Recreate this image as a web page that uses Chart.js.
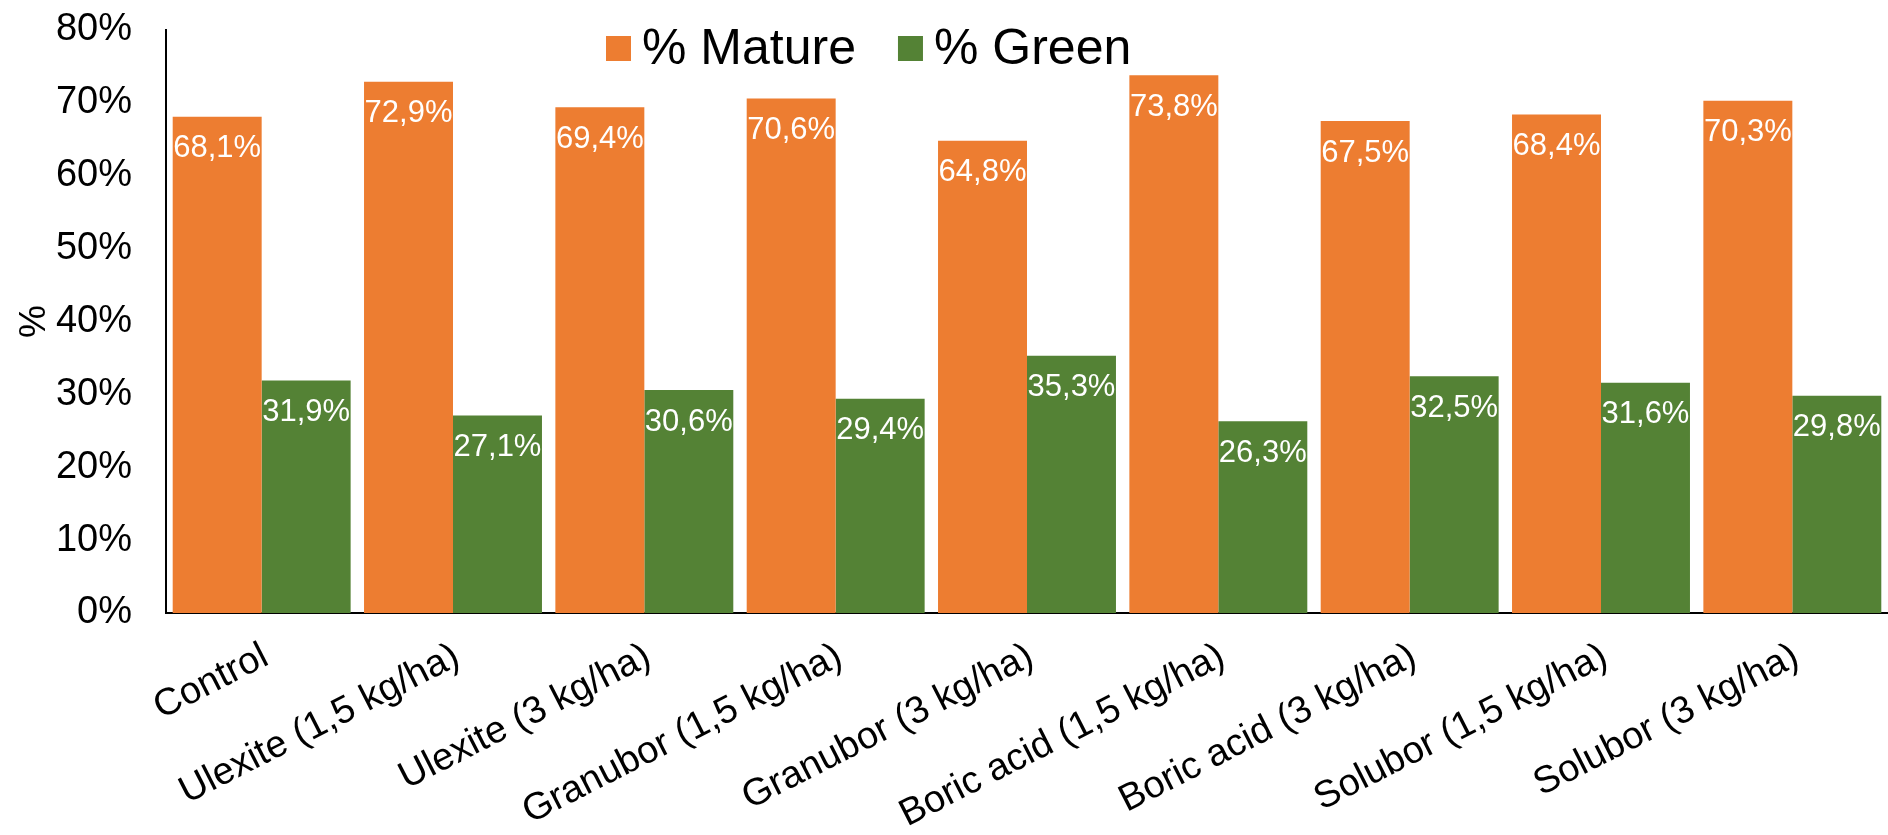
<!DOCTYPE html>
<html>
<head>
<meta charset="utf-8">
<script src="https://cdn.jsdelivr.net/npm/chart.js@4.4.0/dist/chart.umd.min.js"></script>
<style>
  html, body { margin: 0; padding: 0; background: #fff; }
  #wrap { width: 1888px; height: 835px; }
</style>
</head>
<body>
<div id="wrap"><canvas id="chart"></canvas></div>
<script>
const treatments = ['Control', 'Ulexite (1,5 kg/ha)', 'Ulexite (3 kg/ha)', 'Granubor (1,5 kg/ha)',
  'Granubor (3 kg/ha)', 'Boric acid (1,5 kg/ha)', 'Boric acid (3 kg/ha)', 'Solubor (1,5 kg/ha)',
  'Solubor (3 kg/ha)'];
const mature = [68.1, 72.9, 69.4, 70.6, 64.8, 73.8, 67.5, 68.4, 70.3];
const green = [31.9, 27.1, 30.6, 29.4, 35.3, 26.3, 32.5, 31.6, 29.8];
const seriesNames = ['% Mature', '% Green'];
const yTicks = [0, 10, 20, 30, 40, 50, 60, 70, 80];

const FONT = '"Liberation Sans", Arial, sans-serif';

function pct(v) {
  return v.toFixed(1).replace('.', ',') + '%';
}

// white value labels just inside the top of each bar
const barLabels = {
  id: 'barLabels',
  afterDatasetsDraw(chart) {
    const ctx = chart.ctx;
    ctx.save();
    ctx.font = '31px ' + FONT;
    ctx.fillStyle = '#fff';
    ctx.textAlign = 'center';
    ctx.textBaseline = 'middle';
    chart.data.datasets.forEach((ds, i) => {
      chart.getDatasetMeta(i).data.forEach((bar, j) => {
        ctx.fillText(pct(ds.data[j]), bar.x, bar.y + 32);
      });
    });
    ctx.restore();
  }
};

// legend sits over the plot, near the top
const topLegend = {
  id: 'topLegend',
  afterDraw(chart) {
    const ctx = chart.ctx;
    ctx.save();
    ctx.font = '50px ' + FONT;
    ctx.textBaseline = 'middle';
    ctx.textAlign = 'left';
    let x = 606;
    const y = 48;
    chart.data.datasets.forEach(ds => {
      ctx.fillStyle = ds.backgroundColor;
      ctx.fillRect(x, y - 12, 25, 25);
      x += 36;
      ctx.fillStyle = '#000';
      ctx.fillText(ds.label, x, y + 2);
      x += ctx.measureText(ds.label).width + 42;
    });
    ctx.restore();
  }
};

new Chart('chart', {
  type: 'bar',
  data: {
    labels: treatments,
    datasets: [
      { label: seriesNames[0], data: mature, backgroundColor: '#ED7D31' },
      { label: seriesNames[1], data: green, backgroundColor: '#548235' }
    ]
  },
  options: {
    responsive: true,
    maintainAspectRatio: false,
    animation: false,
    layout: { padding: 0 },
    datasets: {
      bar: { categoryPercentage: 0.93, barPercentage: 1 }
    },
    plugins: {
      legend: { display: false },
      tooltip: { enabled: false }
    },
    scales: {
      x: {
        grid: { display: false, drawTicks: false },
        border: { display: true, color: '#000', width: 2 },
        ticks: {
          color: '#000',
          font: { family: FONT, size: 38 },
          minRotation: 27,
          maxRotation: 27,
          padding: 21,
          labelOffset: 4,
          autoSkip: false
        },
        afterFit(scale) { scale.height = 222; }
      },
      y: {
        min: 0,
        max: 80,
        afterBuildTicks(scale) { scale.ticks = yTicks.map(v => ({ value: v })); },
        grid: { display: false, drawTicks: false },
        border: { display: true, color: '#000', width: 2 },
        ticks: {
          color: '#000',
          font: { family: FONT, size: 38 },
          padding: 34,
          callback: v => v + '%'
        },
        title: {
          display: true,
          text: '%',
          color: '#000',
          font: { family: FONT, size: 37 },
          padding: { top: 13, bottom: 0 }
        },
        afterFit(scale) {
          scale.width = 166;
          // tick padding would otherwise also push the plot top down
          scale.paddingTop = 30;
          scale.paddingBottom = 20;
        }
      }
    }
  },
  plugins: [barLabels, topLegend]
});
</script>
</body>
</html>
